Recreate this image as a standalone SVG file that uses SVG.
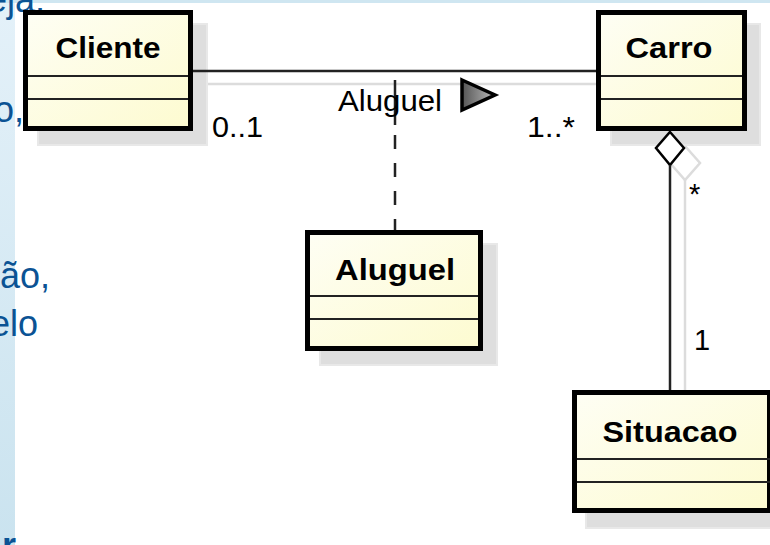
<svg xmlns="http://www.w3.org/2000/svg" width="770" height="545" viewBox="0 0 770 545">
  <defs>
    <linearGradient id="boxFill" x1="0" y1="0" x2="1" y2="1">
      <stop offset="0" stop-color="#fefef4"/>
      <stop offset="1" stop-color="#fdfbd0"/>
    </linearGradient>
    <linearGradient id="strip" x1="0" y1="0" x2="0" y2="1">
      <stop offset="0" stop-color="#e4f1f9"/>
      <stop offset="1" stop-color="#cae3ef"/>
    </linearGradient>
    <linearGradient id="tri" x1="0" y1="0" x2="1" y2="0">
      <stop offset="0" stop-color="#555555"/>
      <stop offset="1" stop-color="#bbbbbb"/>
    </linearGradient>
  </defs>
  <style>
    .shadow { fill: #dedede; stroke: #e8e8e8; stroke-width: 2; }
    .box { fill: url(#boxFill); stroke: #000; stroke-width: 5; }
    .sep { stroke: #222; stroke-width: 2; }
    .name { font-family: "Liberation Sans", Arial, sans-serif; font-weight: bold; font-size: 29px; fill: #000; text-anchor: middle; }
    .lbl { font-family: "Liberation Sans", Arial, sans-serif; font-size: 29px; fill: #000; }
    .bg { font-family: "Liberation Sans", Arial, sans-serif; font-size: 36px; fill: #0b5394; }
    .line { stroke: #222; stroke-width: 2.5; fill: none; }
    .shline { stroke: #dcdcdc; stroke-width: 2.5; fill: none; }
  </style>

  <rect x="0" y="0" width="770" height="545" fill="#ffffff"/>
  <rect x="0" y="0" width="15" height="545" fill="url(#strip)"/>
  <rect x="0" y="0" width="770" height="3" fill="#cfe6f1"/>

  <!-- background slide text fragments -->
  <g id="slide-text">
    <text class="bg" x="-13" y="12">eja,</text>
    <text class="bg" x="-6" y="122">o,</text>
    <text class="bg" x="0" y="288">ão,</text>
    <text class="bg" x="-10" y="336">elo</text>
    <text class="bg" x="2" y="558" font-weight="bold" font-size="28">r</text>
  </g>

  <!-- shadows of connectors -->
  <g id="connector-shadows">
    <line class="shline" x1="207" y1="84" x2="614" y2="84"/>
    <polyline class="shline" points="685,146 700,163 685,180 670,163"/>
    <line class="shline" x1="685" y1="180" x2="685" y2="408"/>
  </g>

  <g id="Cliente">
    <rect class="shadow" x="38" y="24" width="169" height="121"/>
    <rect class="box" x="25.5" y="12.5" width="165" height="116"/>
    <line class="sep" x1="28" y1="76" x2="188" y2="76"/>
    <line class="sep" x1="28" y1="99" x2="188" y2="99"/>
    <text class="name" x="108" y="58" textLength="105" lengthAdjust="spacingAndGlyphs">Cliente</text>
  </g>

  <g id="Carro">
    <rect class="shadow" x="611" y="24" width="149" height="121"/>
    <rect class="box" x="598.5" y="12.5" width="146" height="116"/>
    <line class="sep" x1="601" y1="76" x2="742" y2="76"/>
    <line class="sep" x1="601" y1="99" x2="742" y2="99"/>
    <text class="name" x="669" y="58" textLength="87" lengthAdjust="spacingAndGlyphs">Carro</text>
  </g>

  <g id="Aluguel">
    <rect class="shadow" x="320" y="244" width="177" height="121"/>
    <rect class="box" x="307.5" y="232.5" width="173" height="116"/>
    <line class="sep" x1="310" y1="296" x2="478" y2="296"/>
    <line class="sep" x1="310" y1="319" x2="478" y2="319"/>
    <text class="name" x="395" y="280" textLength="120" lengthAdjust="spacingAndGlyphs">Aluguel</text>
  </g>

  <g id="Situacao">
    <rect class="shadow" x="586" y="405" width="190" height="123"/>
    <rect class="box" x="574.5" y="392.5" width="195" height="118"/>
    <line class="sep" x1="577" y1="459" x2="770" y2="459"/>
    <line class="sep" x1="577" y1="482" x2="770" y2="482"/>
    <text class="name" x="670" y="442" textLength="135" lengthAdjust="spacingAndGlyphs">Situacao</text>
  </g>

  <g id="connectors">
    <line class="line" x1="193" y1="71" x2="596" y2="71"/>
    <line class="line" x1="395" y1="80" x2="395" y2="125"/>
    <line class="line" x1="395" y1="135" x2="395" y2="230" stroke-dasharray="14 14"/>
    <polygon points="462,80 495,95 462,110" fill="url(#tri)" stroke="#000" stroke-width="3.5" stroke-linejoin="miter"/>
    <polygon points="670,132 684,148 670,165 656,148" fill="#ffffff" stroke="#000" stroke-width="2.5"/>
    <line class="line" x1="670" y1="165" x2="670" y2="390"/>
    <text class="lbl" x="338" y="111" textLength="104" lengthAdjust="spacingAndGlyphs">Aluguel</text>
    <text class="lbl" x="212" y="137" textLength="51" lengthAdjust="spacingAndGlyphs">0..1</text>
    <text class="lbl" x="527" y="137" textLength="48" lengthAdjust="spacingAndGlyphs">1..*</text>
    <text class="lbl" x="689" y="204">*</text>
    <text class="lbl" x="694" y="350">1</text>
  </g>
</svg>
